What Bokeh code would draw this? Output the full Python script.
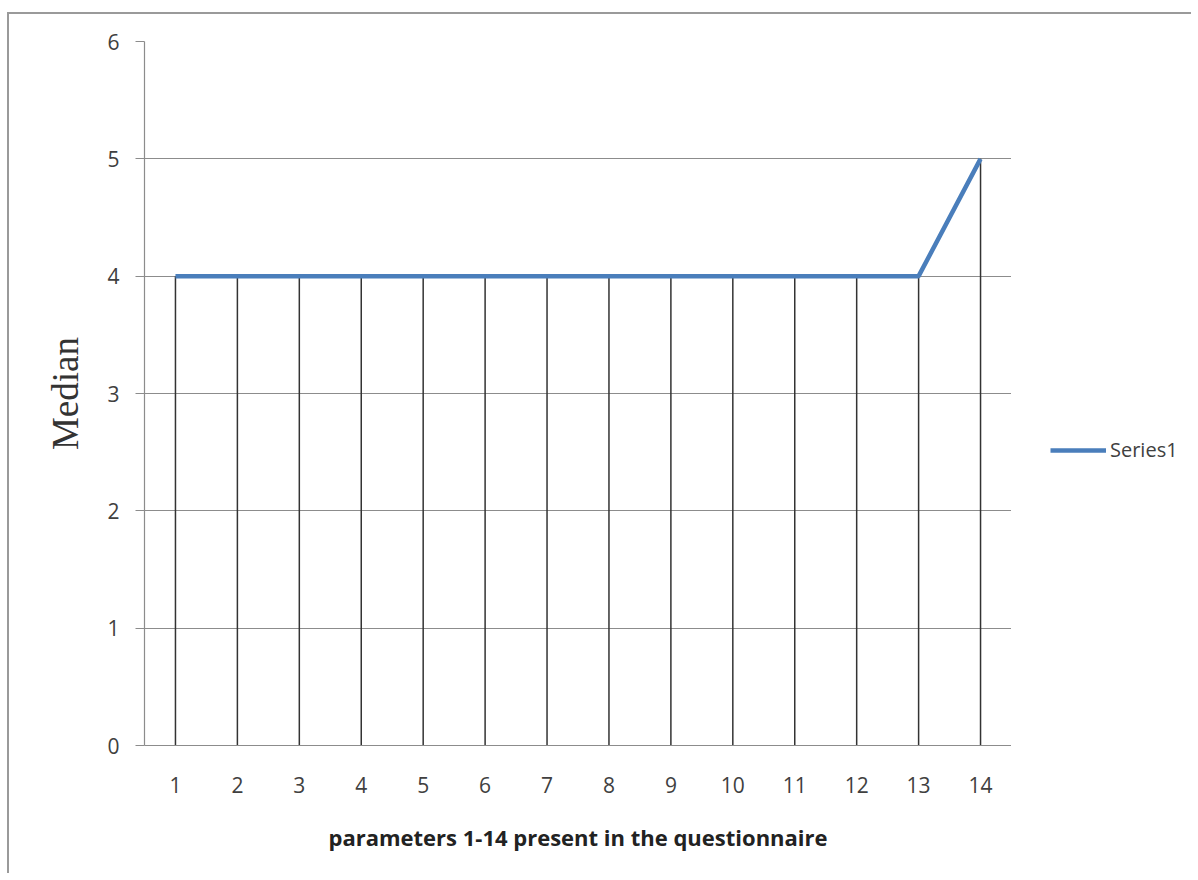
from bokeh.plotting import figure
from bokeh.layouts import row
from bokeh.models import Range1d, FixedTicker, Legend, LegendItem
from bokeh.embed import file_html
from bokeh.resources import INLINE

# data
categories = list(range(1, 15))
medians = [4, 4, 4, 4, 4, 4, 4, 4, 4, 4, 4, 4, 4, 5]
zeros = [0] * len(categories)
y_ticks = [0, 1, 2, 3, 4, 5, 6]

GRAY = "#8c8c8c"
TXT = "#404040"
FONT = "Open Sans"
H = 859

p = figure(width=1002, height=H, output_backend="svg", toolbar_location=None,
           x_range=Range1d(0.5, 14.5), y_range=Range1d(0, 6),
           min_border_left=135, min_border_top=27, min_border_right=0,
           min_border_bottom=128)
p.outline_line_color = None
p.xgrid.grid_line_color = None
p.ygrid.grid_line_color = GRAY
p.ygrid.grid_line_width = 1.2

# drop lines
p.segment(x0=categories, y0=zeros, x1=categories, y1=medians,
          line_color="#333333", line_width=1.5)
# series
r = p.line(categories, medians, line_color="#4a7ebb", line_width=4.5)

p.xaxis.ticker = FixedTicker(ticks=categories)
p.yaxis.ticker = FixedTicker(ticks=y_ticks)
p.xaxis.minor_tick_line_color = None
p.yaxis.minor_tick_line_color = None
p.xaxis.major_tick_line_color = None
p.xaxis.axis_line_color = GRAY
p.xaxis.axis_line_width = 1.2
p.yaxis.axis_line_color = GRAY
p.yaxis.axis_line_width = 1.2
p.yaxis.major_tick_line_color = GRAY
p.yaxis.major_tick_out = 9
p.yaxis.major_tick_in = 0

for ax in (p.xaxis, p.yaxis):
    ax.major_label_text_font = FONT
    ax.major_label_text_font_size = "21px"
    ax.major_label_text_color = TXT
p.yaxis.major_label_standoff = 16
p.xaxis.major_label_standoff = 25

p.xaxis.axis_label = "parameters 1-14 present in the questionnaire"
p.xaxis.axis_label_text_font = FONT
p.xaxis.axis_label_text_font_style = "bold"
p.xaxis.axis_label_text_font_size = "22px"
p.xaxis.axis_label_text_color = "#222222"
p.xaxis.axis_label_standoff = 26

p.yaxis.axis_label = "Median"
p.yaxis.axis_label_text_font = "Liberation Serif"
p.yaxis.axis_label_text_font_style = "normal"
p.yaxis.axis_label_text_font_size = "37px"
p.yaxis.axis_label_text_color = "#333333"
p.yaxis.axis_label_standoff = 18

# legend panel to the right of the plot area
q = figure(width=180, height=H, output_backend="svg", toolbar_location=None,
           x_axis_type=None, y_axis_type=None,
           x_range=Range1d(0, 1), y_range=Range1d(0, 1),
           min_border_left=0, min_border_right=0, min_border_top=0,
           min_border_bottom=0)
q.outline_line_color = None
q.xgrid.grid_line_color = None
q.ygrid.grid_line_color = None
# series renderer reused for the legend key (kept outside the visible range)
rq = q.line(x=[5, 6], y=[5, 5], line_color="#4a7ebb", line_width=4.5)
legend = Legend(items=[LegendItem(label="Series1", renderers=[rq])],
                location=(39, 282), border_line_color=None,
                background_fill_alpha=0, glyph_width=56, glyph_height=20,
                label_height=20, label_standoff=4,
                padding=0, margin=0, label_text_font=FONT,
                label_text_font_size="20px", label_text_color=TXT)
q.add_layout(legend)

layout = row(p, q)
layout.styles = {"border-left": "2px solid #9a9a9a", "border-top": "2px solid #9a9a9a",
                 "margin-top": "12px", "margin-left": "7px"}

open("out.html", "w").write(file_html(layout, INLINE))
